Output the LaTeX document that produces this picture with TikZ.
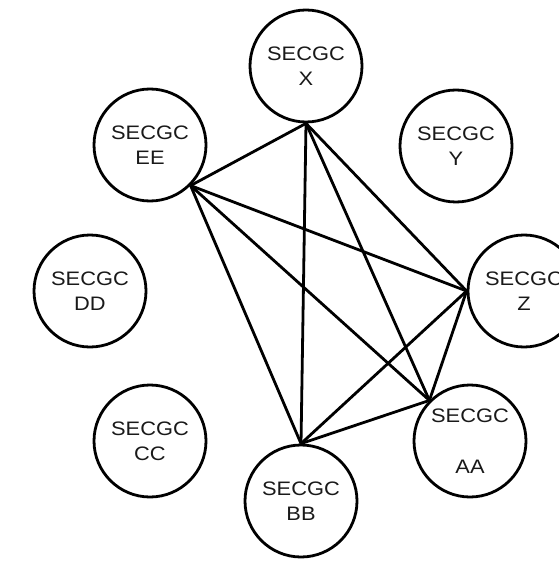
\documentclass[tikz,border=0pt]{standalone}
\usepackage{fontspec}
\setmainfont{Liberation Sans}[FakeStretch=1.12]
\begin{document}
\begin{tikzpicture}[x=1pt, y=-1pt,
    gc/.style={draw, circle, line width=2.8pt, minimum size=112pt, inner sep=0pt,
        align=center, text=black!90, font=\fontsize{19.5}{25}\selectfont},
    link/.style={line width=2.8pt}]
    \useasboundingbox (0,0) rectangle (558,561);

    % Top Row
    \node[gc] (X)  at (306, 66)  {SECGC\\X};
    \node[gc] (EE) at (150, 145) {SECGC\\EE};
    \node[gc] (Y)  at (456, 146) {SECGC\\Y};

    % Middle Row
    \node[gc] (DD) at (90, 291)  {SECGC\\DD};
    \node[gc] (Z)  at (524, 291) {SECGC\\Z};

    % Bottom Row
    \node[gc] (CC) at (150, 441) {SECGC\\CC};
    \node[gc] (AA) at (470, 441) {SECGC\\[26pt]AA};
    \node[gc] (BB) at (301, 501) {SECGC\\BB};

    % Edges: every pair of X, EE, Z, AA, BB
    \draw[link] (X.south)--(EE.south east);
    \draw[link] (X.south)--(Z.west);
    \draw[link] (X.south)--(AA.north west);
    \draw[link] (X.south)--(BB.north);
    \draw[link] (EE.south east)--(Z.west);
    \draw[link] (EE.south east)--(AA.north west);
    \draw[link] (EE.south east)--(BB.north);
    \draw[link] (Z.west)--(AA.north west);
    \draw[link] (Z.west)--(BB.north);
    \draw[link] (AA.north west)--(BB.north);

\end{tikzpicture}
\end{document}
